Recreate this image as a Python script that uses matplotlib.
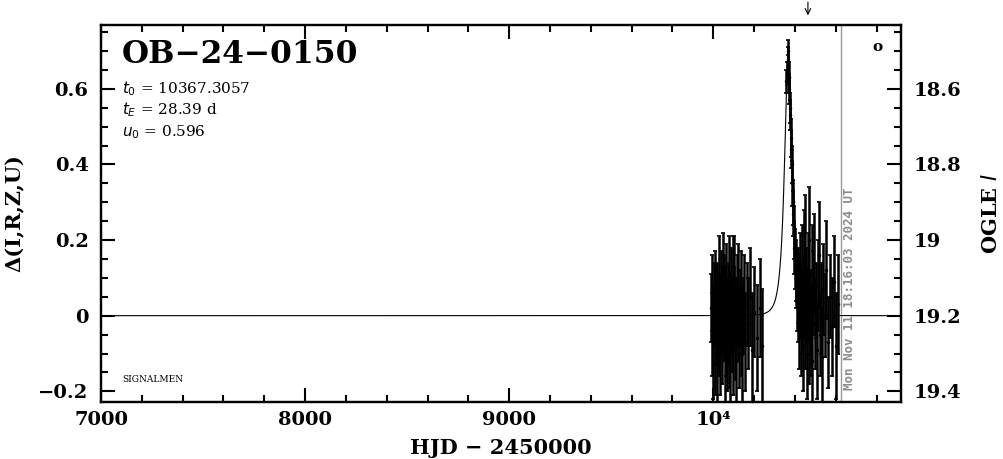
import numpy as np
import matplotlib
matplotlib.use("Agg")
import matplotlib.pyplot as plt
from matplotlib.ticker import MultipleLocator, FuncFormatter

# fit parameters shown on the chart
t0 = 10367.3057
tE = 28.39
u0 = 0.596
now_hjd = 10627.26
alert_hjd = 10464

# 2023 season (HJD - 2450000, delta mag, error)
t1 = [9990, 9993, 9996, 9999, 10002, 10004, 10007, 10009, 10012, 10014,
      10017, 10019, 10022, 10024, 10027, 10029, 10032, 10034, 10037, 10039,
      10042, 10044, 10047, 10049, 10052, 10054, 10057, 10059, 10062, 10064,
      10067, 10069, 10072, 10074, 10077, 10079, 10082, 10084, 10087, 10089,
      10092, 10095, 10098, 10101, 10104, 10107, 10110, 10113, 10116, 10119,
      10122, 10126, 10130, 10134, 10138, 10142, 10147, 10152, 10158, 10164,
      10171, 10180, 10190, 10200, 10215, 10228, 10238]
d1 = [0.02, -0.05, 0.06, -0.10, 0.00, 0.04, -0.08, 0.08, -0.02, 0.03,
      -0.12, 0.05, -0.04, 0.01, 0.09, -0.06, 0.02, -0.09, 0.06, -0.01,
      0.04, -0.07, 0.00, 0.10, -0.03, 0.05, -0.11, 0.03, -0.05, 0.07,
      0.01, -0.08, 0.04, -0.02, 0.11, -0.06, 0.02, -0.10, 0.06, 0.00,
      -0.04, 0.08, -0.09, 0.03, 0.10, -0.05, 0.01, -0.12, 0.05, -0.02,
      0.07, -0.08, 0.02, -0.04, 0.06, -0.10, 0.00, 0.04, -0.07, 0.03,
      -0.02, 0.05, -0.09, 0.01, -0.06, 0.02, -0.08]
e1 = [0.09, 0.11, 0.10, 0.12, 0.08, 0.10, 0.13, 0.09, 0.11, 0.10,
      0.12, 0.09, 0.11, 0.10, 0.12, 0.10, 0.09, 0.12, 0.11, 0.10,
      0.09, 0.11, 0.10, 0.12, 0.09, 0.11, 0.13, 0.10, 0.11, 0.12,
      0.09, 0.12, 0.10, 0.11, 0.10, 0.13, 0.09, 0.14, 0.12, 0.10,
      0.11, 0.13, 0.12, 0.10, 0.11, 0.12, 0.09, 0.14, 0.11, 0.10,
      0.12, 0.11, 0.10, 0.12, 0.11, 0.14, 0.10, 0.12, 0.13, 0.11,
      0.12, 0.13, 0.15, 0.12, 0.14, 0.13, 0.15]

# 2024 season
t2 = [10358, 10361, 10364, 10366, 10368, 10370, 10373, 10375, 10378, 10380,
      10383, 10385, 10388, 10390, 10393, 10395, 10398, 10401, 10404, 10407,
      10410, 10413, 10416, 10419, 10422, 10425, 10428, 10431, 10434, 10437,
      10440, 10443, 10446, 10449, 10452, 10455, 10458, 10461, 10464, 10467,
      10470, 10474, 10478, 10482, 10486, 10490, 10494, 10498, 10502, 10507,
      10512, 10517, 10522, 10528, 10534, 10540, 10547, 10554, 10562, 10570,
      10580, 10590, 10600, 10610]
d2 = [0.62, 0.64, 0.68, 0.70, 0.66, 0.63, 0.60, 0.55, 0.53, 0.47,
      0.44, 0.40, 0.35, 0.30, 0.27, 0.22, 0.18, 0.15, 0.12, 0.10,
      0.05, 0.08, 0.02, 0.06, -0.03, 0.10, 0.04, -0.05, 0.12, 0.00,
      -0.08, 0.15, 0.05, -0.02, 0.18, 0.07, -0.10, 0.03, 0.09, -0.06,
      0.20, 0.01, -0.04, 0.11, -0.12, 0.06, 0.14, -0.02, 0.04, -0.09,
      0.08, 0.16, -0.05, 0.02, -0.11, 0.07, 0.00, 0.12, -0.07, 0.05,
      -0.03, 0.09, -0.08, 0.03]
e2 = [0.03, 0.03, 0.03, 0.03, 0.03, 0.04, 0.04, 0.04, 0.04, 0.05,
      0.05, 0.05, 0.06, 0.06, 0.06, 0.07, 0.07, 0.08, 0.08, 0.08,
      0.09, 0.10, 0.09, 0.10, 0.11, 0.12, 0.10, 0.11, 0.12, 0.10,
      0.12, 0.13, 0.11, 0.12, 0.14, 0.11, 0.12, 0.10, 0.13, 0.12,
      0.14, 0.11, 0.12, 0.13, 0.12, 0.11, 0.13, 0.12, 0.10, 0.13,
      0.12, 0.14, 0.11, 0.12, 0.13, 0.12, 0.11, 0.13, 0.12, 0.11,
      0.13, 0.12, 0.14, 0.13]

baseline = 19.2
serif = ["DejaVu Serif"]

fig = plt.figure(figsize=(10.04, 4.59), dpi=100)
ax = fig.add_axes([0.1006, 0.1248, 0.7968, 0.8201])

# Paczynski model from the printed parameters
tm = np.linspace(7000, 10920, 6000)
u = np.sqrt(u0 ** 2 + ((tm - t0) / tE) ** 2)
A = (u ** 2 + 2) / (u * np.sqrt(u ** 2 + 4))
ax.plot(tm, 2.5 * np.log10(A), color="k", lw=0.8, zorder=3)

for t, d, e in [(t1, d1, e1), (t2, d2, e2)]:
    ax.errorbar(t, d, yerr=e, fmt="o", ms=1.5, color="k", ecolor="k",
                elinewidth=1.8, capsize=1.5, capthick=1.2, zorder=4)

ax.axvline(now_hjd, color="#999999", lw=1.0, zorder=2)
ax.text(now_hjd + 40, -0.197, "Mon Nov 11 18:16:03 2024 UT", rotation=90,
        ha="center", va="bottom", color="#8c8c8c", fontsize=9,
        family="DejaVu Sans Mono", weight="bold")

ax.annotate("", xy=(alert_hjd, 1.019), xytext=(alert_hjd, 1.069),
            xycoords=("data", "axes fraction"), textcoords=("data", "axes fraction"),
            arrowprops=dict(arrowstyle="->", color="k", lw=0.8))

ax.set_xlim(7000, 10920)
ax.set_ylim(-0.2275, 0.768)

ax.xaxis.set_major_locator(MultipleLocator(1000))
ax.xaxis.set_minor_locator(MultipleLocator(200))
ax.yaxis.set_major_locator(MultipleLocator(0.2))
ax.yaxis.set_minor_locator(MultipleLocator(0.05))
ax.xaxis.set_major_formatter(FuncFormatter(lambda v, p: "10⁴" if abs(v - 10000) < 1 else "%d" % v))
ax.yaxis.set_major_formatter(FuncFormatter(lambda v, p: ("%g" % round(v, 2)).replace("-", "−")))

ax.tick_params(which="both", direction="in", top=True, right=False, width=1.5)
ax.tick_params(which="major", length=10)
ax.tick_params(which="minor", length=5)
ax.tick_params(axis="x", pad=7)
ax.tick_params(axis="y", pad=9)
for lab in ax.get_xticklabels() + ax.get_yticklabels():
    lab.set_family(serif)
    lab.set_weight("bold")
    lab.set_fontsize(14)
for s in ax.spines.values():
    s.set_linewidth(1.6)

ax2 = ax.twinx()
ax2.set_ylim(baseline + 0.2275, baseline - 0.768)
ax2.yaxis.set_major_locator(MultipleLocator(0.2))
ax2.yaxis.set_minor_locator(MultipleLocator(0.05))
ax2.yaxis.set_major_formatter(FuncFormatter(lambda v, p: "%g" % round(v, 2)))
ax2.tick_params(which="both", direction="in", width=1.5, pad=9)
ax2.tick_params(which="major", length=10)
ax2.tick_params(which="minor", length=5)
for lab in ax2.get_yticklabels():
    lab.set_family(serif)
    lab.set_weight("bold")
    lab.set_fontsize(14)
for s in ax2.spines.values():
    s.set_linewidth(1.6)

ax.set_xlabel("HJD − 2450000", family=serif, weight="bold", fontsize=15, labelpad=6)
ax.set_ylabel("Δ(I,R,Z,U)", family=serif, weight="bold", fontsize=15, labelpad=10)
ax2.set_ylabel("OGLE $\\mathit{I}$", family=serif, weight="bold", fontsize=15,
               labelpad=14, rotation=90)

ax.text(0.026, 0.963, "OB−24−0150", transform=ax.transAxes, family=serif,
        weight="bold", fontsize=22.5, ha="left", va="top")
ax.text(0.026, 0.833, "$t_0$ = 10367.3057", transform=ax.transAxes,
        family=serif, fontsize=11, ha="left", va="center")
ax.text(0.026, 0.775, "$t_E$ = 28.39 d", transform=ax.transAxes,
        family=serif, fontsize=11, ha="left", va="center")
ax.text(0.026, 0.717, "$u_0$ = 0.596", transform=ax.transAxes,
        family=serif, fontsize=11, ha="left", va="center")
ax.text(0.026, 0.058, "SIGNALMEN", transform=ax.transAxes, family=serif,
        fontsize=6.5, ha="left", va="center")
ax.text(0.97, 0.942, "o", transform=ax.transAxes, family=serif,
        weight="bold", fontsize=11, ha="center", va="center")

fig.savefig("out.png", dpi=100)
